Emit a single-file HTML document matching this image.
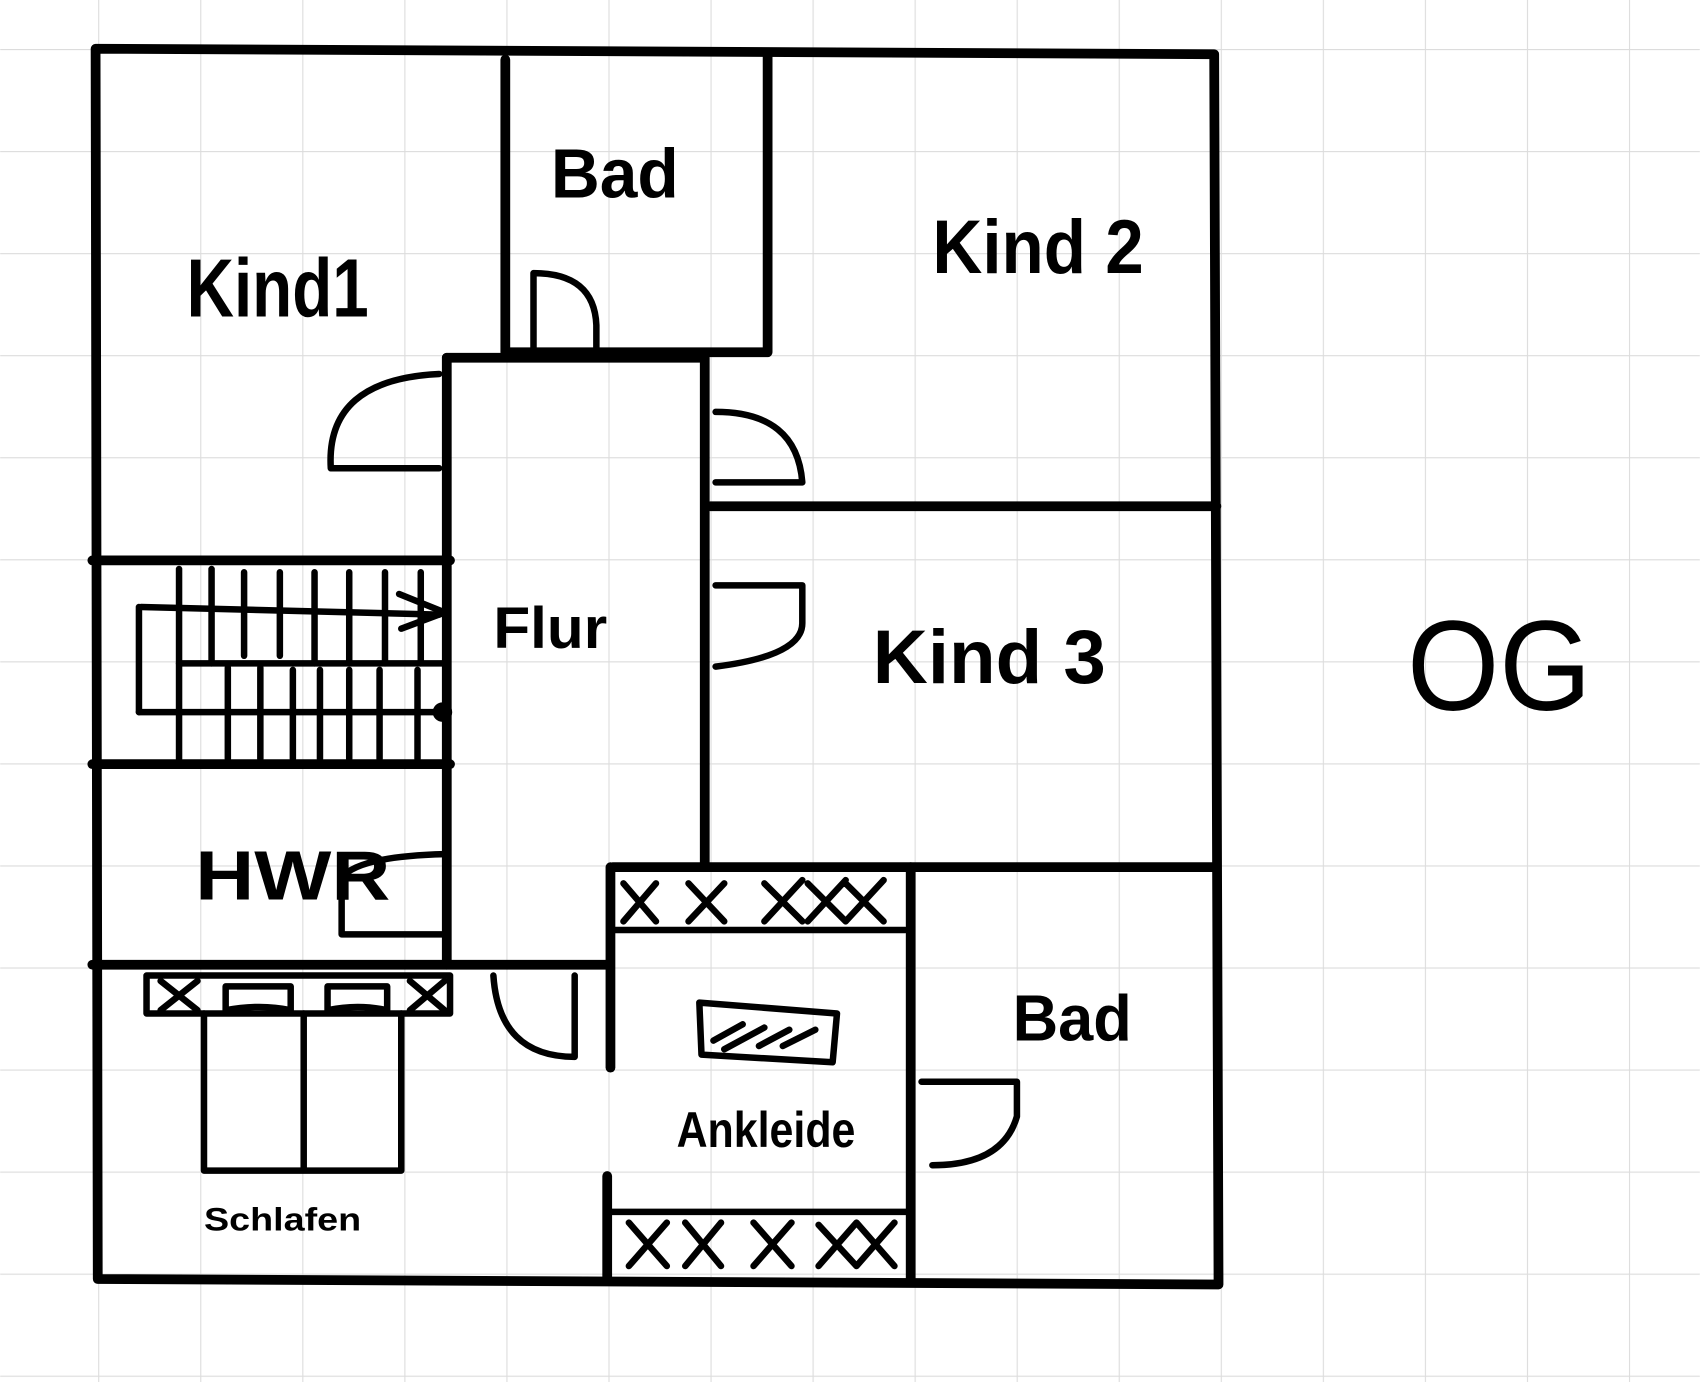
<!DOCTYPE html>
<html><head><meta charset="utf-8"><style>
html,body{margin:0;padding:0;background:#fff;}
svg{display:block;}
text{font-family:"Liberation Sans",sans-serif;fill:#000;}
</style></head><body>
<svg width="1700" height="1382" viewBox="0 0 1568 1275" xmlns="http://www.w3.org/2000/svg">
<defs>
<pattern id="g" x="90.4" y="45.2" width="94.15" height="94.15" patternUnits="userSpaceOnUse">
<path d="M0 0V94.15M0 0H94.15" stroke="#dcdcdc" stroke-width="2" fill="none"/>
</pattern>
</defs>
<rect width="1568" height="1275" fill="#fff"/>
<rect width="1568" height="1275" fill="url(#g)"/>
<g stroke="#000" stroke-linecap="round" stroke-linejoin="round" fill="none">
<g stroke-width="9">
<path d="M88 45 L1120 50 L1124 1185 L90 1180 Z"/>
<path d="M466 55 V325 H708 V52"/>
<path d="M412 330 H650 V800"/>
<path d="M412 330 V890"/>
<path d="M85 517 H415"/>
<path d="M655 467 H1122"/>
<path d="M565 800 H1120"/>
<path d="M85 705 H415"/>
<path d="M85 890 H560"/>
<path d="M563 800 V985"/>
<path d="M560 1085 V1180"/>
<path d="M840 800 V1180"/>
</g>
<g stroke-width="6">
<path d="M565 858 H835"/>
<path d="M560 1118 H840"/>
<path d="M165 525 V700"/>
<path d="M165 612 H410"/>
<path d="M128 560 V657"/>
<path d="M130 560 L405 567"/>
<path d="M128 657 L410 657"/>
<path d="M195 525 V612 M225 528 V605 M258 528 V605 M290 528 V612 M322 528 V612 M355 528 V612 M388 528 V612"/>
<path d="M210 616 V700 M240 616 V700 M270 618 V700 M295 618 V700 M322 618 V700 M350 618 V700 M385 618 V700"/>
<path d="M368 548 L410 565 L370 580"/>
<path d="M492 252 V322 M492 252 Q548 252 550 300 V322"/>
<path d="M305 432 H405 M305 432 Q300 350 405 345"/>
<path d="M660 380 Q735 380 740 445 H660"/>
<path d="M660 540 H740 V575 Q740 605 660 615"/>
<path d="M315 862 H410 M315 862 V810 Q330 790 410 788"/>
<path d="M455 900 Q460 975 530 975 V900"/>
<path d="M850 998 H938 V1030 Q925 1075 860 1075"/>
<path d="M135 900 H415 V935 H135 Z"/>
<path d="M188 935 V1080 H370 V935 M280 935 V1080"/>
<path d="M208 910 H268 V932 Q240 926 208 932 Z M302 910 H357 V932 Q330 926 302 932 Z"/>
<path d="M148 905 L182 932 M182 905 L148 932 M378 905 L410 932 M410 905 L378 932"/>
<path d="M645 925 L772 935 L768 980 L647 973 Z"/>
<path d="M658 960 L685 945 M668 968 L705 948 M700 965 L728 950 M722 965 L752 950"/>
<path d="M575 815 L605 850 M605 815 L575 850 M635 815 L668 850 M668 815 L635 850 M705 815 L740 850 M740 812 L705 850 M745 815 L780 850 M780 812 L745 850 M780 815 L815 850 M815 812 L780 850"/>
<path d="M580 1128 L615 1168 M615 1128 L580 1168 M632 1128 L665 1168 M665 1128 L632 1168 M695 1128 L730 1168 M730 1128 L695 1168 M755 1130 L790 1168 M790 1128 L755 1168 M790 1128 L825 1168 M825 1128 L790 1168"/>
</g>
<circle cx="408" cy="657" r="9" fill="#000" stroke="none"/>
</g>
<g font-weight="bold">
<text x="172" y="292" font-size="76" textLength="168" lengthAdjust="spacingAndGlyphs">Kind1</text>
<text x="508" y="182" font-size="64" textLength="118" lengthAdjust="spacingAndGlyphs">Bad</text>
<text x="860" y="252" font-size="70" textLength="195" lengthAdjust="spacingAndGlyphs">Kind 2</text>
<text x="455" y="598" font-size="54" textLength="105" lengthAdjust="spacingAndGlyphs">Flur</text>
<text x="805" y="630" font-size="70" textLength="215" lengthAdjust="spacingAndGlyphs">Kind 3</text>
<text x="180" y="830" font-size="64" textLength="180" lengthAdjust="spacingAndGlyphs">HWR</text>
<text x="1298" y="655" font-size="118" font-weight="normal" textLength="170" lengthAdjust="spacingAndGlyphs">OG</text>
<text x="624" y="1058" font-size="46" textLength="165" lengthAdjust="spacingAndGlyphs">Ankleide</text>
<text x="188" y="1135" font-size="30" textLength="145" lengthAdjust="spacingAndGlyphs">Schlafen</text>
<text x="934" y="960" font-size="60" textLength="110" lengthAdjust="spacingAndGlyphs">Bad</text>
</g>
</svg>
</body></html>
